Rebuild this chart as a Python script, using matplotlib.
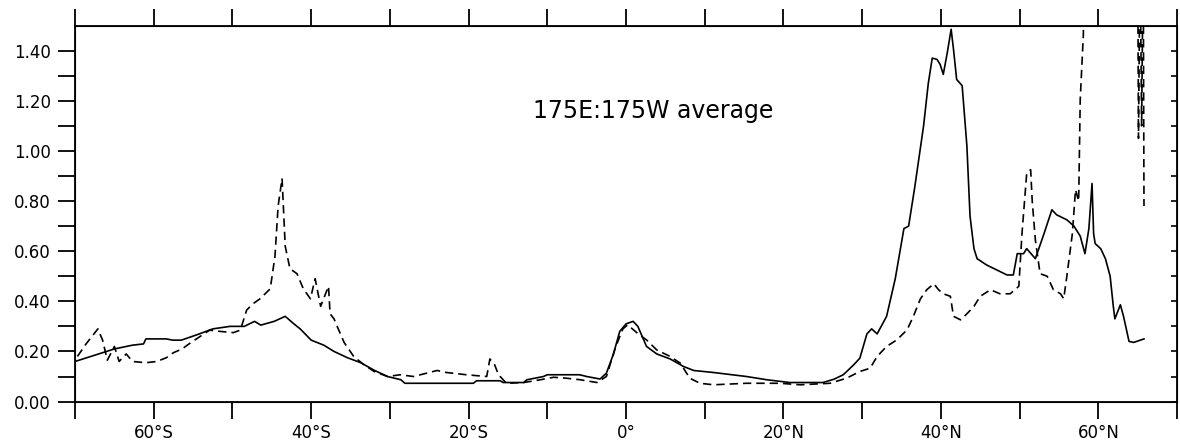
import matplotlib
matplotlib.use("Agg")
import matplotlib.pyplot as plt
from matplotlib.ticker import FixedLocator, FixedFormatter

# solid curve (latitude, value)
lat_solid = [-70, -67, -65, -62.7, -61.3, -61, -58.4, -57.6, -56.5, -54.2, -52.5, -50.3,
             -48.5, -47.2, -46.4, -44.7, -43.3, -42.2, -41.4, -40, -38.4, -37.1, -35.4,
             -33.7, -32, -30.3, -28.6, -28.1, -19.4, -19, -16, -15.6, -13, -12.6, -10.5,
             -10, -5.9, -5, -3.3, -2.5, -1.6, -0.8, 0, 0.9, 1.5, 2.6, 3.9, 5.6, 7.3, 8.6,
             11.1, 15.3, 17.9, 20.8, 25, 26.4, 27.6, 28.9, 29.7, 30.6, 31.2, 31.9, 33.1,
             34.2, 35.3, 35.9, 36.7, 37.8, 38.4, 38.9, 39.5, 39.9, 40.3, 40.8, 41.3, 41.6,
             42, 42.7, 43.3, 43.7, 44.2, 44.6, 45.8, 47.1, 48.4, 49.2, 49.7, 50.5, 50.9,
             52, 53.1, 54.1, 54.7, 56, 56.9, 57.7, 58.3, 58.8, 59.2, 59.4, 59.6, 60.3,
             60.9, 61.5, 61.9, 62.1, 62.8, 63.2, 63.9, 64.5, 65.8]
val_solid = [0.16, 0.19, 0.21, 0.225, 0.23, 0.25, 0.25, 0.245, 0.245, 0.27, 0.29, 0.30,
             0.30, 0.32, 0.305, 0.32, 0.34, 0.31, 0.29, 0.245, 0.225, 0.20, 0.175,
             0.155, 0.125, 0.10, 0.087, 0.073, 0.073, 0.083, 0.083, 0.076, 0.076, 0.087, 0.10,
             0.107, 0.107, 0.10, 0.09, 0.113, 0.19, 0.28, 0.31, 0.32, 0.30, 0.22, 0.19, 0.17, 0.14, 0.124,
             0.116, 0.10, 0.087, 0.076, 0.076, 0.089, 0.107, 0.146, 0.173, 0.27, 0.29, 0.27, 0.34,
             0.49, 0.69, 0.70, 0.86, 1.10, 1.27, 1.37, 1.365, 1.345, 1.305, 1.39, 1.485, 1.405,
             1.285, 1.26, 1.02, 0.74, 0.61, 0.57, 0.545, 0.525, 0.505, 0.505, 0.59, 0.59, 0.61,
             0.57, 0.67, 0.765, 0.745, 0.725, 0.70, 0.66, 0.59, 0.69, 0.87, 0.67, 0.63, 0.61,
             0.57, 0.50, 0.38, 0.33, 0.386, 0.34, 0.24, 0.236, 0.25]

# dashed curve
lat_dash = [-69.7, -68.6, -67.1, -66.5, -65.9, -65, -64.4, -63.5, -62.7, -61, -59.6, -58.4,
            -57.5, -56.4, -55.3, -54.1, -52.9, -51.6, -49.9, -49, -48.2, -47.4, -46.5, -45.2,
            -44.6, -44.2, -43.7, -43.3, -42.7, -41.8, -41, -40.1, -39.5, -38.8, -37.8, -37.6,
            -37.1, -36.7, -35.8, -34.6, -33.3, -32, -30.3, -28.7, -27, -24, -22.8, -20.3,
            -17.7, -17.3, -16.7, -16.2, -15.2, -13, -10.9, -9.2, -7.5, -5.8, -3.7, -2.5,
            -1.3, -0.4, 0.2, 0.8, 1.7, 2.6, 3.9, 5.6, 6.9, 8.1, 9.4, 11.1, 15.3, 19.6, 22.1,
            25.9, 28, 29.7, 31, 31.9, 33.1, 34.4, 35.7, 36.5, 37.4, 38.2, 39.1, 39.7, 40.3,
            41.2, 41.6, 42.5, 43.3, 44.2, 45, 46.3, 47.5, 48.8, 49.9, 50.3, 50.9, 51.4, 51.6,
            52, 52.6, 53.5, 54.3, 55.2, 55.6, 56, 56.7, 57.1, 57.5, 57.7, 58.1, 58.3, 64.9,
            65.1, 65.3, 65.5, 65.7, 65.8]
val_dash = [0.18, 0.23, 0.29, 0.245, 0.165, 0.22, 0.16, 0.19, 0.16, 0.155, 0.16, 0.175,
            0.195, 0.21, 0.235, 0.26, 0.285, 0.28, 0.275, 0.285, 0.365, 0.39, 0.41, 0.45,
            0.58, 0.78, 0.89, 0.62, 0.53, 0.51, 0.45, 0.41, 0.49, 0.38, 0.46, 0.35,
            0.33, 0.30, 0.235, 0.18, 0.147, 0.12, 0.10, 0.107, 0.10, 0.124, 0.116, 0.107,
            0.10, 0.17, 0.147, 0.107, 0.073, 0.076, 0.087, 0.097, 0.093, 0.087, 0.076, 0.10,
            0.22, 0.29, 0.306, 0.29, 0.266, 0.246, 0.206, 0.18, 0.153, 0.093, 0.073, 0.067, 0.073, 0.073, 0.067,
            0.073, 0.093, 0.12, 0.133, 0.18, 0.22, 0.246, 0.286, 0.34, 0.41, 0.446, 0.47, 0.446, 0.43,
            0.42, 0.34, 0.326, 0.35, 0.38, 0.42, 0.446, 0.43, 0.43, 0.46, 0.67, 0.91, 0.925, 0.80,
            0.645, 0.51, 0.50, 0.446, 0.43, 0.41, 0.50, 0.67, 0.845, 0.80, 1.205, 1.465, 2.5, 2.5,
            1.05, 1.8, 1.1, 1.8, 0.78]

lat_ticks = [-70, -60, -50, -40, -30, -20, -10, 0, 10, 20, 30, 40, 50, 60, 70]
lat_labels = ["", "60°S", "", "40°S", "", "20°S", "", "0°", "", "20°N", "", "40°N", "", "60°N", ""]
y_ticks = [0.0, 0.1, 0.2, 0.3, 0.4, 0.5, 0.6, 0.7, 0.8, 0.9, 1.0, 1.1, 1.2, 1.3, 1.4]
y_labels = ["0.00", "", "0.20", "", "0.40", "", "0.60", "", "0.80", "", "1.00", "", "1.20", "", "1.40"]

fig = plt.figure(figsize=(11.8, 4.43), dpi=100)
ax = fig.add_axes([0.0636, 0.0935, 0.9339, 0.8489])

ax.plot(lat_solid, val_solid, color="black", lw=1.2)
ax.plot(lat_dash, val_dash, color="black", lw=1.2, dashes=(5, 3))

ax.set_xlim(-70, 70)
ax.set_ylim(0, 1.5)

ax.xaxis.set_major_locator(FixedLocator(lat_ticks))
ax.xaxis.set_major_formatter(FixedFormatter(lat_labels))
ax.yaxis.set_major_locator(FixedLocator(y_ticks))
ax.yaxis.set_major_formatter(FixedFormatter(y_labels))

ax.tick_params(axis="x", direction="out", length=12, width=1.3, top=True,
               labelsize=12, pad=4)
ax.tick_params(axis="y", direction="out", length=12, width=1.3, labelsize=12, pad=5.5)
for s in ax.spines.values():
    s.set_linewidth(1.3)

# short inward ticks on the right side
ax2 = ax.twinx()
ax2.set_ylim(0, 1.5)
ax2.yaxis.set_major_locator(FixedLocator(y_ticks))
ax2.tick_params(axis="y", direction="in", length=4, width=1.2, labelright=False)

ax.text(-11.8, 1.16, "175E:175W average", fontsize=17, ha="left", va="center")

fig.savefig("out.png", dpi=100)
